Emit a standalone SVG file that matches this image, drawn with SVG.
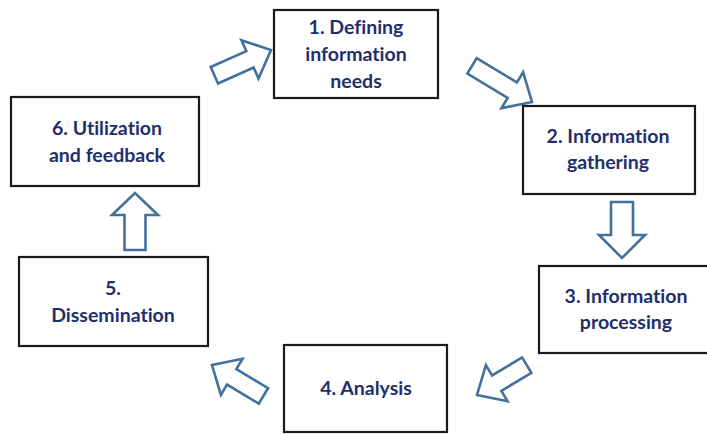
<svg xmlns="http://www.w3.org/2000/svg" width="707" height="434" viewBox="0 0 707 434">
<style>
.box{fill:#fff;stroke:#1a1a1a;stroke-width:2.2}
.lbl{font-family:Lato,"Liberation Sans",sans-serif;font-weight:bold;font-size:19.5px;fill:#1f2f6b;text-anchor:middle;font-variant-ligatures:none}
.arr{fill:#fff;stroke:#41719c;stroke-width:2.6;stroke-linejoin:miter}
</style>
<rect width="707" height="434" fill="#fff"/>
<g id="connectors">
<polygon class="arr" transform="translate(271,50) rotate(-24)" points="-62,-9 -23,-9 -23,-21 0,0 -23,21 -23,9 -62,9"/>
<polygon class="arr" transform="translate(532,102) rotate(31)" points="-70,-9 -23,-9 -23,-21 0,0 -23,21 -23,9 -70,9"/>
<polygon class="arr" transform="translate(622,258) rotate(90)" points="-56,-11 -23,-11 -23,-23 0,0 -23,23 -23,11 -56,11"/>
<polygon class="arr" transform="translate(477,395) rotate(149)" points="-58,-9 -23,-9 -23,-21 0,0 -23,21 -23,9 -58,9"/>
<polygon class="arr" transform="translate(212,365) rotate(211)" points="-60,-9 -23,-9 -23,-21 0,0 -23,21 -23,9 -60,9"/>
<polygon class="arr" transform="translate(135,193) rotate(-90)" points="-57,-10.5 -22,-10.5 -22,-23 0,0 -22,23 -22,10.5 -57,10.5"/>
</g>
<g id="node1">
<rect class="box" x="274" y="10" width="164" height="88"/>
<text class="lbl" x="356" y="34">1. Defining</text>
<text class="lbl" x="356" y="61">information</text>
<text class="lbl" x="356" y="88">needs</text>
</g>
<g id="node2">
<rect class="box" x="523" y="106" width="172" height="88"/>
<text class="lbl" x="608" y="143">2. Information</text>
<text class="lbl" x="608" y="169">gathering</text>
</g>
<g id="node3">
<rect class="box" x="539" y="266" width="170" height="87"/>
<text class="lbl" x="626" y="303">3. Information</text>
<text class="lbl" x="626" y="329">processing</text>
</g>
<g id="node4">
<rect class="box" x="284" y="345" width="163" height="87"/>
<text class="lbl" x="366" y="395">4. Analysis</text>
</g>
<g id="node5">
<rect class="box" x="19" y="257" width="189" height="89"/>
<text class="lbl" x="113" y="295">5.</text>
<text class="lbl" x="113" y="322">Dissemination</text>
</g>
<g id="node6">
<rect class="box" x="11" y="97" width="188" height="89"/>
<text class="lbl" x="107" y="135">6. Utilization</text>
<text class="lbl" x="107" y="162">and feedback</text>
</g>
</svg>
